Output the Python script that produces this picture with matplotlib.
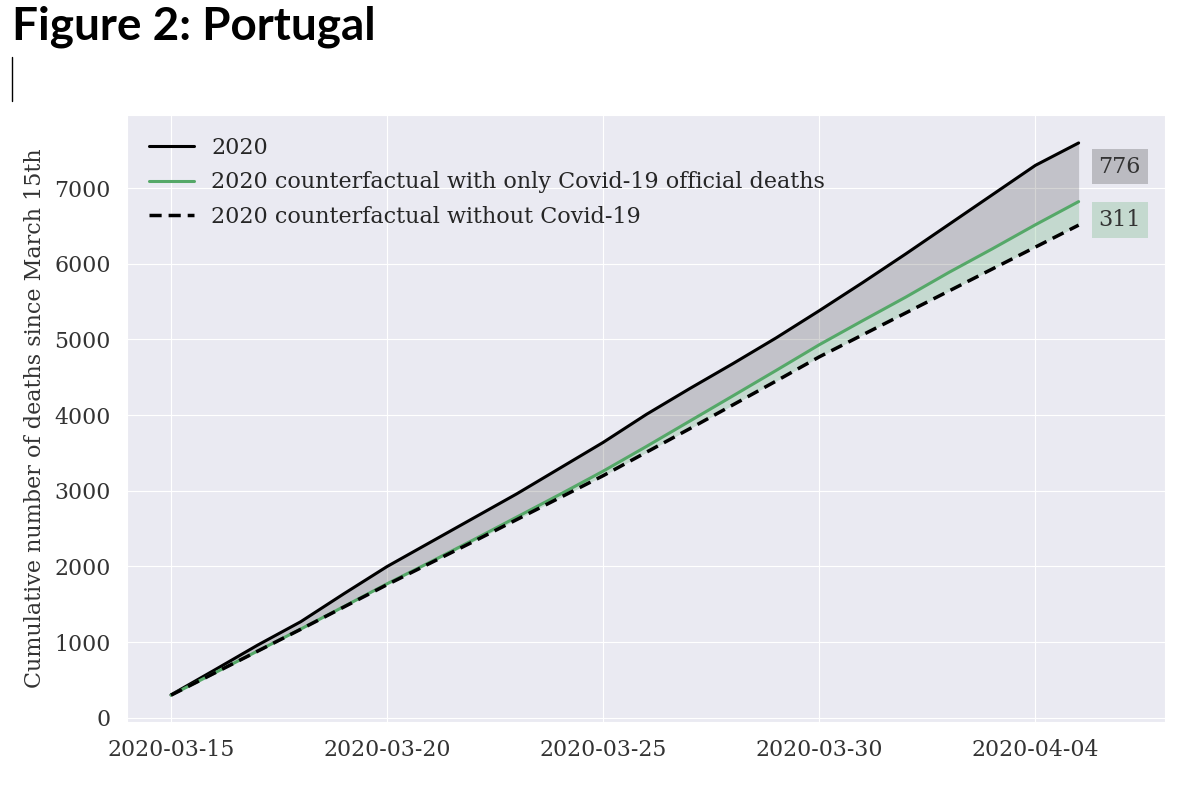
import numpy as np
import pandas as pd
import matplotlib
matplotlib.use("Agg")
import matplotlib.pyplot as plt
import matplotlib.dates as mdates
from matplotlib.lines import Line2D
import seaborn as sns

# ── Data ─────────────────────────────────────────────────────────────────────
dates = pd.date_range("2020-03-15", "2020-04-05", freq="D")

deaths_2020 = [304, 630, 960, 1270, 1640, 2000, 2320, 2640, 2960, 3300, 3640,
               4010, 4350, 4680, 5020, 5380, 5750, 6130, 6520, 6910, 7300, 7596]
counterfactual_covid = [300, 591, 882, 1173, 1471, 1772, 2059, 2353, 2653, 2953, 3260,
                        3586, 3920, 4254, 4590, 4930, 5247, 5559, 5886, 6196, 6515, 6821]
counterfactual_none = [300, 590, 880, 1170, 1465, 1760, 2045, 2330, 2620, 2910, 3200,
                       3510, 3820, 4135, 4450, 4770, 5060, 5350, 5640, 5930, 6220, 6510]

gap_labels = ["776", "311"]
y_ticks = [0, 1000, 2000, 3000, 4000, 5000, 6000, 7000]

# ── Style ────────────────────────────────────────────────────────────────────
sns.set_style("darkgrid")
plt.rcParams["font.family"] = ["DejaVu Serif"]
FS = 16
TEXT = "#333333"
GREEN = "#55a868"

fig = plt.figure(figsize=(11.81, 8.01), dpi=100)
ax = fig.add_axes([0.1075, 0.0986, 0.879, 0.7578])

ax.plot(dates, deaths_2020, color="black", lw=2.2, label="2020")
ax.plot(dates, counterfactual_covid, color=GREEN, lw=2.2,
        label="2020 counterfactual with only Covid-19 official deaths")
ax.plot(dates, counterfactual_none, color="black", lw=2.5, ls=(0, (3.5, 2)),
        label="2020 counterfactual without Covid-19")

ax.fill_between(dates, counterfactual_covid, deaths_2020, color="black", alpha=0.17, lw=0)
ax.fill_between(dates, counterfactual_none, counterfactual_covid, color=GREEN, alpha=0.25, lw=0)

# gap labels next to the last point
x_lab = dates[-1] + pd.Timedelta(days=0.95)
ax.text(x_lab, counterfactual_covid[-1] + 460, gap_labels[0], ha="center", va="center",
        fontsize=FS, color=TEXT,
        bbox=dict(boxstyle="square,pad=0.3", fc="black", alpha=0.2, ec="none"))
ax.text(x_lab, counterfactual_none[-1] + 70, gap_labels[1], ha="center", va="center",
        fontsize=FS, color=TEXT,
        bbox=dict(boxstyle="square,pad=0.3", fc=GREEN, alpha=0.25, ec="none"))

ax.set_xlim(dates[0] - pd.Timedelta(days=1.02), dates[0] + pd.Timedelta(days=23.0))
ax.set_ylim(-55, 7965)
ax.set_yticks(y_ticks)
ax.xaxis.set_major_locator(mdates.DayLocator(bymonthday=[15, 20, 25, 30, 4]))
ax.xaxis.set_major_formatter(mdates.DateFormatter("%Y-%m-%d"))
ax.tick_params(labelsize=15.8, colors=TEXT)
ax.tick_params(axis="y", pad=8)
ax.tick_params(axis="x", pad=9)
ax.set_ylabel("Cumulative number of deaths since March 15th", fontsize=FS,
              color=TEXT, labelpad=6)

ax.legend(loc="upper left", fontsize=FS, frameon=False, borderaxespad=0.6,
          labelspacing=0.55)

# page-style title and text cursor
fig.text(0.010, 0.966, "Figure 2: Portugal", fontsize=33, fontweight="bold",
         family="Lato", ha="left", va="center", color="black")
fig.add_artist(Line2D([0.0105, 0.0105], [1 - 57 / 801, 1 - 101 / 801],
                      color="black", lw=1, transform=fig.transFigure))

fig.savefig("out.png", dpi=100)
